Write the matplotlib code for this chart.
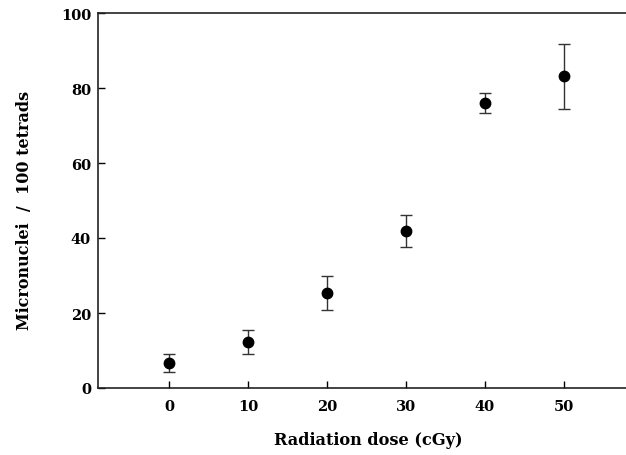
import matplotlib
matplotlib.use("Agg")
import matplotlib.pyplot as plt

dose = [0, 10, 20, 30, 40, 50]
micronuclei = [6.6, 12.3, 25.4, 41.9, 76.1, 83.1]
err = [2.4, 3.3, 4.6, 4.3, 2.7, 8.6]
xticks = [0, 10, 20, 30, 40, 50]
yticks = [0, 20, 40, 60, 80, 100]

plt.rcParams['font.family'] = ['DejaVu Serif']
plt.rcParams['font.weight'] = 'bold'

fig = plt.figure(figsize=(6.26, 4.56), dpi=100)
ax = fig.add_axes([98/626, 1-389/456, (638-98)/626, (389-14)/456])

ax.errorbar(dose, micronuclei, yerr=err, fmt='o', color='black', ecolor='#333333',
            elinewidth=1.0, capsize=4, capthick=1.0, markersize=7.5)

ax.set_xlim(-9, 59.4)
ax.set_ylim(0, 100)
ax.set_xticks(xticks)
ax.set_yticks(yticks)
ax.tick_params(axis='both', direction='in', length=5, width=1, labelsize=10.5)
ax.tick_params(axis='x', pad=8)
ax.tick_params(axis='y', pad=5)
for lab in ax.get_xticklabels() + ax.get_yticklabels():
    lab.set_fontweight('bold')
ax.spines['right'].set_visible(False)
for s in ['left', 'bottom', 'top']:
    ax.spines[s].set_linewidth(1.2)
    ax.spines[s].set_color('#222222')

ax.set_xlabel('Radiation dose (cGy)', fontsize=11.6, fontweight='bold', labelpad=13)
ax.set_ylabel('Micronuclei  /  100 tetrads', fontsize=11.5, fontweight='bold')
ax.yaxis.set_label_coords(-0.12, 0.477)

fig.savefig('out.png', dpi=100)
